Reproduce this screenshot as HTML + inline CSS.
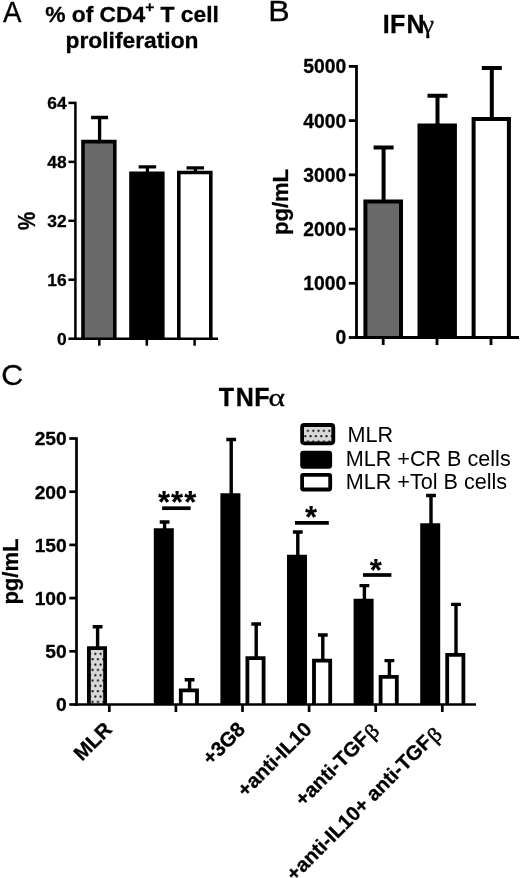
<!DOCTYPE html>
<html><head><meta charset="utf-8"><title>Figure</title>
<style>html,body{margin:0;padding:0;background:#fff;}body{width:520px;height:878px;overflow:hidden;}svg{display:block;}text{font-family:"Liberation Sans", Arial, Helvetica, sans-serif;fill:#000;}.b{font-weight:bold;stroke:#000;stroke-width:0.3px;}.sym{font-family:"Liberation Serif", "DejaVu Serif", serif;font-weight:normal;}.pl{stroke:#000;stroke-width:0.3px;}</style>
</head><body>
<svg width="520" height="878" viewBox="0 0 520 878">
<defs>
<filter id="soft" filterUnits="userSpaceOnUse" x="0" y="0" width="520" height="878"><feGaussianBlur stdDeviation="0.4"/></filter>
<pattern id="dots" x="93.97" y="651.29" width="5.33" height="10.66" patternUnits="userSpaceOnUse"><rect width="5.33" height="10.66" fill="#d9d9d9"/><circle cx="1.33" cy="2.67" r="1.1" fill="#0a0a0a"/><circle cx="4.00" cy="8.00" r="1.1" fill="#0a0a0a"/></pattern>
<pattern id="dotsL" x="306.57" y="428.23" width="5.33" height="10.66" patternUnits="userSpaceOnUse"><rect width="5.33" height="10.66" fill="#d9d9d9"/><circle cx="1.33" cy="2.67" r="1.1" fill="#0a0a0a"/><circle cx="4.00" cy="8.00" r="1.1" fill="#0a0a0a"/></pattern>
</defs>
<rect width="520" height="878" fill="#fff"/>
<g filter="url(#soft)">
<rect width="520" height="878" fill="#fff"/>
<text class="pl" font-size="29.2" transform="translate(2.9 21.6) scale(0.95 1)">A</text>
<text class="b" x="132" y="21.5" font-size="22.8" text-anchor="middle">% of CD4<tspan font-size="15.5" dy="-9.5">+</tspan><tspan dy="9.5"> T cell</tspan></text>
<text class="b" x="132" y="47.5" font-size="22.8" text-anchor="middle">proliferation</text>
<text class="b" font-size="23" text-anchor="middle" transform="translate(34.8 221) rotate(-90) scale(0.89 1.03)">%</text>
<path d="M99.60 140.80 V117.50 M91.10 117.50 H108.10" stroke="#000" stroke-width="3.30" fill="none" stroke-linecap="butt"/>
<rect x="83.00" y="141.60" width="31.80" height="197.10" fill="#6b6b6b"/>
<path d="M83.00 338.70 V141.60 H114.80 V338.70" fill="none" stroke="#000" stroke-width="3.60" stroke-linejoin="miter"/>
<path d="M147.40 172.40 V166.80 M138.65 166.80 H156.15" stroke="#000" stroke-width="3.30" fill="none" stroke-linecap="butt"/>
<rect x="131.00" y="173.20" width="31.80" height="165.50" fill="#000"/>
<path d="M131.00 338.70 V173.20 H162.80 V338.70" fill="none" stroke="#000" stroke-width="3.60" stroke-linejoin="miter"/>
<path d="M195.30 171.70 V167.90 M186.55 167.90 H204.05" stroke="#000" stroke-width="3.30" fill="none" stroke-linecap="butt"/>
<rect x="178.80" y="172.50" width="32.00" height="166.20" fill="#fff"/>
<path d="M178.80 338.70 V172.50 H210.80 V338.70" fill="none" stroke="#000" stroke-width="3.60" stroke-linejoin="miter"/>
<path d="M75.40 101.75 V339.95" stroke="#000" stroke-width="2.50" fill="none"/>
<path d="M68.40 338.70 H75.40" stroke="#000" stroke-width="2.50"/>
<text class="b" x="66.70" y="344.93" font-size="17.40" text-anchor="end">0</text>
<path d="M68.40 279.75 H75.40" stroke="#000" stroke-width="2.50"/>
<text class="b" x="66.70" y="285.98" font-size="17.40" text-anchor="end">16</text>
<path d="M68.40 220.80 H75.40" stroke="#000" stroke-width="2.50"/>
<text class="b" x="66.70" y="227.03" font-size="17.40" text-anchor="end">32</text>
<path d="M68.40 161.85 H75.40" stroke="#000" stroke-width="2.50"/>
<text class="b" x="66.70" y="168.08" font-size="17.40" text-anchor="end">48</text>
<path d="M68.40 102.90 H75.40" stroke="#000" stroke-width="2.50"/>
<text class="b" x="66.70" y="109.13" font-size="17.40" text-anchor="end">64</text>
<path d="M74.15 338.70 H218.00" stroke="#000" stroke-width="2.50" fill="none"/>
<path d="M99.30 338.70 V345.70" stroke="#000" stroke-width="2.50"/>
<path d="M146.80 338.70 V345.70" stroke="#000" stroke-width="2.50"/>
<path d="M194.60 338.70 V345.70" stroke="#000" stroke-width="2.50"/>
<text class="pl" font-size="29.2" transform="translate(268.2 21.4) scale(1.1 1)">B</text>
<text class="b" x="382.8" y="33.3" font-size="25" dx="0 0.3 1.1">IFN</text>
<text class="sym" font-size="25" transform="translate(421.6 33.3) scale(1.14 1.05)" stroke="#000" stroke-width="0.3">γ</text>
<text class="b" font-size="22" text-anchor="middle" transform="translate(287.6 202.0) rotate(-90)">pg/mL</text>
<path d="M383.60 200.50 V147.50 M373.60 147.50 H393.60" stroke="#000" stroke-width="4.00" fill="none" stroke-linecap="butt"/>
<rect x="365.40" y="201.50" width="35.60" height="136.00" fill="#6b6b6b"/>
<path d="M365.40 337.50 V201.50 H401.00 V337.50" fill="none" stroke="#000" stroke-width="4.00" stroke-linejoin="miter"/>
<path d="M437.50 124.50 V95.80 M427.50 95.80 H447.50" stroke="#000" stroke-width="4.00" fill="none" stroke-linecap="butt"/>
<rect x="419.50" y="125.50" width="35.40" height="212.00" fill="#000"/>
<path d="M419.50 337.50 V125.50 H454.90 V337.50" fill="none" stroke="#000" stroke-width="4.00" stroke-linejoin="miter"/>
<path d="M491.80 117.90 V68.00 M481.80 68.00 H501.80" stroke="#000" stroke-width="4.00" fill="none" stroke-linecap="butt"/>
<rect x="473.60" y="118.90" width="35.30" height="218.60" fill="#fff"/>
<path d="M473.60 337.50 V118.90 H508.90 V337.50" fill="none" stroke="#000" stroke-width="4.00" stroke-linejoin="miter"/>
<path d="M356.50 65.00 V338.90" stroke="#000" stroke-width="2.80" fill="none"/>
<path d="M348.80 337.50 H356.50" stroke="#000" stroke-width="2.80"/>
<text class="b" x="346.20" y="344.41" font-size="19.30" text-anchor="end">0</text>
<path d="M348.80 283.28 H356.50" stroke="#000" stroke-width="2.80"/>
<text class="b" x="346.20" y="290.19" font-size="19.30" text-anchor="end">1000</text>
<path d="M348.80 229.06 H356.50" stroke="#000" stroke-width="2.80"/>
<text class="b" x="346.20" y="235.97" font-size="19.30" text-anchor="end">2000</text>
<path d="M348.80 174.84 H356.50" stroke="#000" stroke-width="2.80"/>
<text class="b" x="346.20" y="181.75" font-size="19.30" text-anchor="end">3000</text>
<path d="M348.80 120.62 H356.50" stroke="#000" stroke-width="2.80"/>
<text class="b" x="346.20" y="127.53" font-size="19.30" text-anchor="end">4000</text>
<path d="M348.80 66.40 H356.50" stroke="#000" stroke-width="2.80"/>
<text class="b" x="346.20" y="73.31" font-size="19.30" text-anchor="end">5000</text>
<path d="M355.10 337.50 H519.00" stroke="#000" stroke-width="2.80" fill="none"/>
<path d="M383.20 337.50 V345.00" stroke="#000" stroke-width="2.80"/>
<path d="M437.00 337.50 V345.00" stroke="#000" stroke-width="2.80"/>
<path d="M491.00 337.50 V345.00" stroke="#000" stroke-width="2.80"/>
<text class="pl" font-size="29.2" transform="translate(1.3 385.0) scale(1.04 1)">C</text>
<text class="b" x="218.8" y="406.3" font-size="25" dx="0 1.7 0.5">TNF</text>
<text class="sym" font-size="25" transform="translate(268.6 406.3) scale(1.25 1.04)" stroke="#000" stroke-width="0.3">α</text>
<text class="b" font-size="22" text-anchor="middle" transform="translate(17.8 571.6) rotate(-90)">pg/mL</text>
<path d="M97.60 647.30 V626.70 M92.70 626.70 H102.50" stroke="#000" stroke-width="3.40" fill="none" stroke-linecap="butt"/>
<rect x="88.90" y="648.20" width="16.20" height="56.30" fill="url(#dots)"/>
<path d="M88.90 704.50 V648.20 H105.10 V704.50" fill="none" stroke="#000" stroke-width="3.80" stroke-linejoin="miter"/>
<path d="M164.60 529.30 V522.00 M159.70 522.00 H169.50" stroke="#000" stroke-width="3.40" fill="none" stroke-linecap="butt"/>
<rect x="155.70" y="530.20" width="16.20" height="174.30" fill="#000"/>
<path d="M155.70 704.50 V530.20 H171.90 V704.50" fill="none" stroke="#000" stroke-width="3.80" stroke-linejoin="miter"/>
<path d="M189.60 689.50 V679.80 M184.70 679.80 H194.50" stroke="#000" stroke-width="3.40" fill="none" stroke-linecap="butt"/>
<rect x="180.80" y="690.40" width="16.20" height="14.10" fill="#fff"/>
<path d="M180.80 704.50 V690.40 H197.00 V704.50" fill="none" stroke="#000" stroke-width="3.80" stroke-linejoin="miter"/>
<path d="M231.20 494.30 V439.50 M226.30 439.50 H236.10" stroke="#000" stroke-width="3.40" fill="none" stroke-linecap="butt"/>
<rect x="222.30" y="495.20" width="16.20" height="209.30" fill="#000"/>
<path d="M222.30 704.50 V495.20 H238.50 V704.50" fill="none" stroke="#000" stroke-width="3.80" stroke-linejoin="miter"/>
<path d="M256.20 657.30 V624.00 M251.30 624.00 H261.10" stroke="#000" stroke-width="3.40" fill="none" stroke-linecap="butt"/>
<rect x="247.40" y="658.20" width="16.20" height="46.30" fill="#fff"/>
<path d="M247.40 704.50 V658.20 H263.60 V704.50" fill="none" stroke="#000" stroke-width="3.80" stroke-linejoin="miter"/>
<path d="M297.80 555.70 V532.00 M292.90 532.00 H302.70" stroke="#000" stroke-width="3.40" fill="none" stroke-linecap="butt"/>
<rect x="288.90" y="556.60" width="16.20" height="147.90" fill="#000"/>
<path d="M288.90 704.50 V556.60 H305.10 V704.50" fill="none" stroke="#000" stroke-width="3.80" stroke-linejoin="miter"/>
<path d="M322.80 659.75 V635.00 M317.90 635.00 H327.70" stroke="#000" stroke-width="3.40" fill="none" stroke-linecap="butt"/>
<rect x="314.00" y="660.65" width="16.20" height="43.85" fill="#fff"/>
<path d="M314.00 704.50 V660.65 H330.20 V704.50" fill="none" stroke="#000" stroke-width="3.80" stroke-linejoin="miter"/>
<path d="M364.40 599.80 V585.60 M359.50 585.60 H369.30" stroke="#000" stroke-width="3.40" fill="none" stroke-linecap="butt"/>
<rect x="355.50" y="600.70" width="16.20" height="103.80" fill="#000"/>
<path d="M355.50 704.50 V600.70 H371.70 V704.50" fill="none" stroke="#000" stroke-width="3.80" stroke-linejoin="miter"/>
<path d="M389.40 676.00 V660.60 M384.50 660.60 H394.30" stroke="#000" stroke-width="3.40" fill="none" stroke-linecap="butt"/>
<rect x="380.60" y="676.90" width="16.20" height="27.60" fill="#fff"/>
<path d="M380.60 704.50 V676.90 H396.80 V704.50" fill="none" stroke="#000" stroke-width="3.80" stroke-linejoin="miter"/>
<path d="M431.00 524.30 V495.50 M426.10 495.50 H435.90" stroke="#000" stroke-width="3.40" fill="none" stroke-linecap="butt"/>
<rect x="422.10" y="525.20" width="16.20" height="179.30" fill="#000"/>
<path d="M422.10 704.50 V525.20 H438.30 V704.50" fill="none" stroke="#000" stroke-width="3.80" stroke-linejoin="miter"/>
<path d="M456.00 654.00 V604.40 M451.10 604.40 H460.90" stroke="#000" stroke-width="3.40" fill="none" stroke-linecap="butt"/>
<rect x="447.20" y="654.90" width="16.20" height="49.60" fill="#fff"/>
<path d="M447.20 704.50 V654.90 H463.40 V704.50" fill="none" stroke="#000" stroke-width="3.80" stroke-linejoin="miter"/>
<path d="M76.50 437.15 V705.85" stroke="#000" stroke-width="2.70" fill="none"/>
<path d="M69.30 704.50 H76.50" stroke="#000" stroke-width="2.70"/>
<text class="b" x="66.70" y="711.37" font-size="19.20" text-anchor="end">0</text>
<path d="M69.30 651.30 H76.50" stroke="#000" stroke-width="2.70"/>
<text class="b" x="66.70" y="658.17" font-size="19.20" text-anchor="end">50</text>
<path d="M69.30 598.10 H76.50" stroke="#000" stroke-width="2.70"/>
<text class="b" x="66.70" y="604.97" font-size="19.20" text-anchor="end">100</text>
<path d="M69.30 544.90 H76.50" stroke="#000" stroke-width="2.70"/>
<text class="b" x="66.70" y="551.77" font-size="19.20" text-anchor="end">150</text>
<path d="M69.30 491.70 H76.50" stroke="#000" stroke-width="2.70"/>
<text class="b" x="66.70" y="498.57" font-size="19.20" text-anchor="end">200</text>
<path d="M69.30 438.50 H76.50" stroke="#000" stroke-width="2.70"/>
<text class="b" x="66.70" y="445.37" font-size="19.20" text-anchor="end">250</text>
<path d="M75.15 704.50 H476.00" stroke="#000" stroke-width="2.70" fill="none"/>
<path d="M109.30 704.50 V712.00" stroke="#000" stroke-width="2.70"/>
<path d="M175.90 704.50 V712.00" stroke="#000" stroke-width="2.70"/>
<path d="M242.50 704.50 V712.00" stroke="#000" stroke-width="2.70"/>
<path d="M309.10 704.50 V712.00" stroke="#000" stroke-width="2.70"/>
<path d="M375.70 704.50 V712.00" stroke="#000" stroke-width="2.70"/>
<path d="M442.30 704.50 V712.00" stroke="#000" stroke-width="2.70"/>
<path d="M162.10 508.20 H190.60" stroke="#000" stroke-width="3.7"/>
<text class="b" style="stroke-width:0.1px" x="177.70" y="513.40" font-size="31.0" text-anchor="middle" letter-spacing="1.1">***</text>
<path d="M295.00 522.80 H328.80" stroke="#000" stroke-width="3.7"/>
<text class="b" style="stroke-width:0.1px" x="311.00" y="528.30" font-size="31.0" text-anchor="middle">*</text>
<path d="M363.00 575.00 H391.40" stroke="#000" stroke-width="3.7"/>
<text class="b" style="stroke-width:0.1px" x="375.80" y="581.30" font-size="31.0" text-anchor="middle">*</text>
<rect x="302.10" y="425.00" width="31.20" height="18.30" rx="2.2" ry="2.2" fill="url(#dotsL)" stroke="#000" stroke-width="3.8"/>
<rect x="302.10" y="452.70" width="28.10" height="14.10" rx="1.2" ry="1.2" fill="#000" stroke="#000" stroke-width="3.8"/>
<rect x="302.10" y="474.80" width="28.10" height="14.70" rx="1.2" ry="1.2" fill="#fff" stroke="#000" stroke-width="3.8"/>
<text x="347.4" y="442.0" font-size="21.6">MLR</text>
<text x="345.7" y="466.4" font-size="21.6">MLR +CR B cells</text>
<text x="345.7" y="488.7" font-size="21.6">MLR +Tol B cells</text>
<text class="b" font-size="20.3" text-anchor="end" transform="translate(113.10 730.60) rotate(-45)">MLR</text>
<text class="b" font-size="20.3" text-anchor="end" transform="translate(246.30 730.60) rotate(-45)">+3G8</text>
<text class="b" font-size="20.3" text-anchor="end" transform="translate(312.90 730.60) rotate(-45)">+anti-IL10</text>
<text class="b" font-size="20.3" text-anchor="end" transform="translate(370.60 739.80) rotate(-45)">+anti-TGF</text>
<text class="sym" font-size="20.3" stroke="#000" stroke-width="0.55" transform="translate(372.60 740.20) rotate(-45) scale(1.1 1)">β</text>
<text class="b" font-size="20.3" text-anchor="end" transform="translate(433.20 743.30) rotate(-45)">+anti-IL10+ anti-TGF</text>
<text class="sym" font-size="20.3" stroke="#000" stroke-width="0.55" transform="translate(435.20 743.70) rotate(-45) scale(1.1 1)">β</text>
</g>
</svg></body></html>
